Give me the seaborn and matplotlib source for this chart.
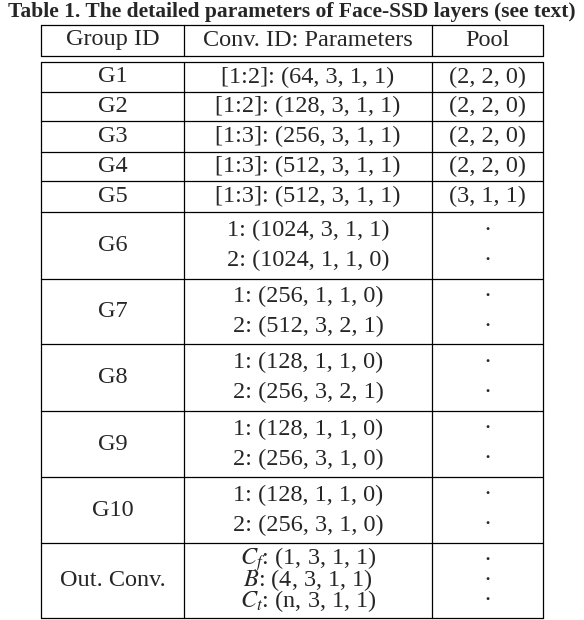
import matplotlib
matplotlib.use("Agg")
import matplotlib.pyplot as plt
import seaborn as sns

sns.set_theme(style="white")
plt.rcParams['font.family'] = ['Liberation Serif', 'DejaVu Serif']
plt.rcParams['mathtext.fontset'] = 'stix'

title = "Table 1. The detailed parameters of Face-SSD layers (see text)"
headers = ["Group ID", "Conv. ID: Parameters", "Pool"]
groups = ["G1", "G2", "G3", "G4", "G5", "G6", "G7", "G8", "G9", "G10", "Out. Conv."]
convs = [
    ["[1:2]: (64, 3, 1, 1)"],
    ["[1:2]: (128, 3, 1, 1)"],
    ["[1:3]: (256, 3, 1, 1)"],
    ["[1:3]: (512, 3, 1, 1)"],
    ["[1:3]: (512, 3, 1, 1)"],
    ["1: (1024, 3, 1, 1)", "2: (1024, 1, 1, 0)"],
    ["1: (256, 1, 1, 0)", "2: (512, 3, 2, 1)"],
    ["1: (128, 1, 1, 0)", "2: (256, 3, 2, 1)"],
    ["1: (128, 1, 1, 0)", "2: (256, 3, 1, 0)"],
    ["1: (128, 1, 1, 0)", "2: (256, 3, 1, 0)"],
    [r"$C_f$: (1, 3, 1, 1)", r"$B$: (4, 3, 1, 1)", r"$C_t$: (n, 3, 1, 1)"],
]
pools = [
    ["(2, 2, 0)"], ["(2, 2, 0)"], ["(2, 2, 0)"], ["(2, 2, 0)"], ["(3, 1, 1)"],
    ["·", "·"], ["·", "·"], ["·", "·"], ["·", "·"], ["·", "·"],
    ["·", "·", "·"],
]

# layout in pixels
col_x = [41, 184, 432, 543]
row_top = [62, 92, 121, 152, 181, 212, 279, 344, 411, 477, 543, 618]
fs = 17.5

fig = plt.figure(figsize=(5.84, 6.2), dpi=100)
ax = fig.add_axes([0, 0, 1, 1])
ax.set_xlim(0, 584)
ax.set_ylim(620, 0)
ax.axis("off")

ax.text(292, 12, title, ha="center", va="center", fontsize=15.5, fontweight="bold")

lw = 0.9
# header box
ax.plot([col_x[0], col_x[-1]], [25, 25], color="black", lw=lw)
ax.plot([col_x[0], col_x[-1]], [56, 56], color="black", lw=lw)
for x in col_x:
    ax.plot([x, x], [25, 56], color="black", lw=lw)
    ax.plot([x, x], [row_top[0], row_top[-1]], color="black", lw=lw)
cx = [(col_x[i] + col_x[i + 1]) / 2 for i in range(3)]
for i, h in enumerate(headers):
    ax.text(cx[i], 40, h, ha="center", va="center", fontsize=fs)

for i in range(len(row_top)):
    ax.plot([col_x[0], col_x[-1]], [row_top[i], row_top[i]], color="black", lw=lw)

for i, g in enumerate(groups):
    top, bot = row_top[i], row_top[i + 1]
    mid = (top + bot) / 2
    ax.text(cx[0], mid, g, ha="center", va="center", fontsize=fs)
    n = len(convs[i])
    step = 30 if n == 2 else 20.5
    for j in range(n):
        y = mid + (j - (n - 1) / 2) * step
        ax.text(cx[1], y, convs[i][j], ha="center", va="center", fontsize=fs)
        ax.text(cx[2], y, pools[i][j], ha="center", va="center", fontsize=fs)

fig.savefig("out.png", dpi=100)
